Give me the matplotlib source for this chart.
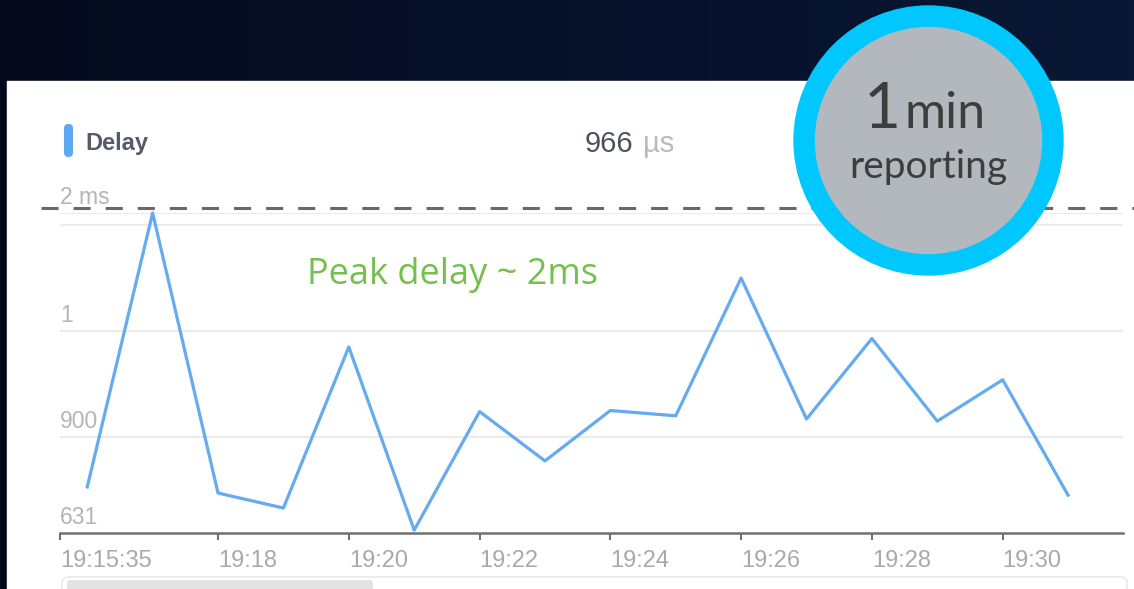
import numpy as np
import matplotlib
matplotlib.use("Agg")
import matplotlib.pyplot as plt
from matplotlib.patches import Circle, Rectangle, FancyBboxPatch
from matplotlib.colors import LinearSegmentedColormap
from matplotlib.lines import Line2D

# one delay sample per minute, 19:16 .. 19:31 (minutes past 19:00)
minutes = [16, 17, 18, 19, 20, 21, 22, 23, 24, 25, 26, 27, 28, 29, 30, 31]
delay_us = [760, 2000, 743, 701, 985, 639, 924, 833, 925, 920, 1449, 917, 993, 915, 954, 737]

# y gridlines of the dashboard (in microseconds) and how they are labelled
grid_us = [631, 900, 1000, 2000]
grid_labels = ["631", "900", "1", "2 ms"]
extra_grid_us = [1900]

# x ticks
tick_minutes = [15 + 35 / 60, 18, 20, 22, 24, 26, 28, 30]
tick_labels = ["19:15:35", "19:18", "19:20", "19:22", "19:24", "19:26", "19:28", "19:30"]

avg_value = "966"
avg_unit = "µs"

W, H = 1134, 589
FONT = ["Liberation Sans", "DejaVu Sans"]
BADGE_FONT = ["Lato", "DejaVu Sans"]
plt.rcParams["font.family"] = FONT

fig = plt.figure(figsize=(W / 100, H / 100), dpi=100)

# --- background: dark slide + white panel
bg = fig.add_axes([0, 0, 1, 1], zorder=0)
bg.set_xlim(0, W)
bg.set_ylim(H, 0)
bg.axis("off")
cmap = LinearSegmentedColormap.from_list("navy", ["#040a1b", "#06112a", "#0a1835"])
grad = np.linspace(0, 1, 256).reshape(1, -1)
bg.imshow(grad, cmap=cmap, extent=(0, W, H, 0), aspect="auto")
bg.add_patch(Rectangle((7, 81), W - 7, H - 81, color="white"))
# range slider remnant at the bottom
bg.add_patch(FancyBboxPatch((62, 577), 1065, 30, boxstyle="round,pad=0,rounding_size=6",
                            fc="none", ec="#e6e6e6", lw=1))
bg.add_patch(FancyBboxPatch((67, 580), 306, 20, boxstyle="round,pad=0,rounding_size=3",
                            fc="#e3e3e3", ec="none"))

# --- the delay chart
# the dashboard spaces its gridlines unevenly, so use a piecewise scale
steps = [0.0, 0.3, 0.631, 1.0]
fwd = lambda v: np.interp(v, grid_us, steps)
inv = lambda s: np.interp(s, steps, grid_us)

ax = fig.add_axes([60 / W, 1 - 533 / H, 1063 / W, 320 / H], zorder=1)
ax.patch.set_alpha(0)
ax.set_yscale("function", functions=(fwd, inv))
ax.set_ylim(grid_us[0], grid_us[-1])
ax.set_xlim(tick_minutes[0], 31.84)

ax.plot(minutes, delay_us, color="#66abf0", lw=2.3, clip_on=False, zorder=3)

ax.set_yticks(grid_us)
ax.set_yticklabels([])
ax.tick_params(axis="y", length=0)
for v in grid_us[1:] + extra_grid_us:
    ax.axhline(v, color="#ebebeb", lw=1.5, zorder=1)
for v, lab in zip(grid_us, grid_labels):
    ax.annotate(lab, xy=(0, v), xycoords=ax.get_yaxis_transform(), xytext=(0, 3),
                textcoords="offset points", ha="left", va="bottom",
                fontsize=16.5, color="#b5b5b5")

ax.set_xticks(tick_minutes)
ax.set_xticklabels(tick_labels, fontsize=17, color="#a9a9a9")
for lbl in ax.get_xticklabels():
    lbl.set_ha("left")
ax.tick_params(axis="x", direction="out", length=5, width=1.5, color="#707070", pad=7)
for s in ["top", "right", "left"]:
    ax.spines[s].set_visible(False)
ax.spines["bottom"].set_color("#707070")
ax.spines["bottom"].set_linewidth(1.8)

# --- overlay: legend, average, annotation, dashed 2 ms line, badge
ov = fig.add_axes([0, 0, 1, 1], zorder=2)
ov.set_xlim(0, W)
ov.set_ylim(H, 0)
ov.axis("off")
ov.patch.set_alpha(0)

ov.add_patch(FancyBboxPatch((64, 124), 9, 33, boxstyle="round,pad=0,rounding_size=4.5",
                            fc="#5fa7f0", ec="none"))
ov.text(85, 150, "Delay", fontsize=17, fontweight="bold", color="#555b68", va="baseline")
ov.text(585, 152, avg_value, fontsize=21, color="#4b505c", va="baseline")
ov.text(643, 152, avg_unit, fontsize=21, color="#bdb6c4", va="baseline")

ov.text(307, 284, "Peak delay ~ 2ms", fontsize=26, color="#74bf4e", va="baseline",
        family=["Open Sans", "DejaVu Sans"])

ov.add_line(Line2D([41, W], [208, 208], color="#696969", lw=2.2,
                   dashes=(5.6, 4.9), zorder=1))

ov.add_patch(Circle((928.5, 140.5), 134.5, color="#00c8ff", zorder=2))
ov.add_patch(Circle((928.5, 140.5), 113, color="#b3b8be", zorder=3))
ov.text(901, 128, "1", fontsize=46, color="#3d3d3d", ha="right", va="baseline",
        family=BADGE_FONT, zorder=4)
ov.text(905, 128, "min", fontsize=36, color="#3d3d3d", ha="left", va="baseline",
        family=BADGE_FONT, zorder=4)
ov.text(928, 178, "reporting", fontsize=28, color="#3d3d3d", ha="center", va="baseline",
        family=BADGE_FONT, zorder=4)

fig.savefig("out.png", dpi=100)
